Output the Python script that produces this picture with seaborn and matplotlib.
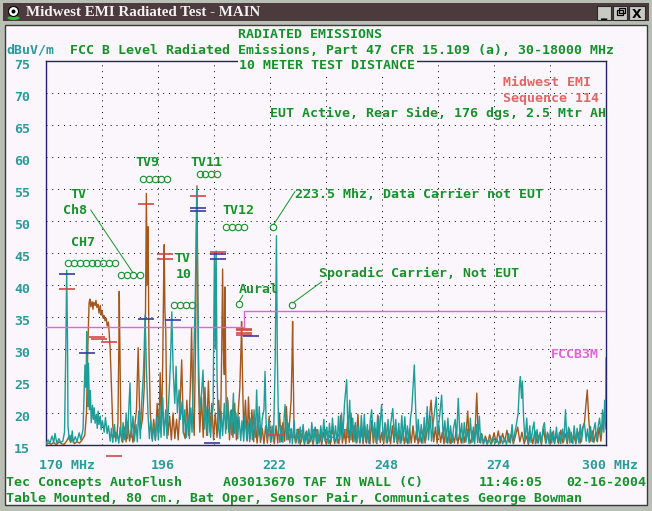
import matplotlib
matplotlib.use("Agg")
import pandas as pd
import matplotlib.pyplot as plt
from matplotlib.patches import Rectangle, Ellipse
from matplotlib.transforms import ScaledTranslation, blended_transform_factory
import seaborn as sns

# ---- values (MHz, dBuV/m) ----
brown_mhz = [
    170.0, 170.6, 171.2, 171.8, 172.4, 173.0, 173.6, 174.2, 174.8, 175.3,
    175.7, 176.1, 176.6, 177.2, 177.8, 178.4, 179.0, 179.4, 179.7, 180.0,
    180.2, 180.4, 180.7, 180.9, 181.1, 181.4, 181.6, 181.8, 182.1, 182.3,
    182.6, 182.8, 183.0, 183.3, 183.5, 183.7, 184.0, 184.2, 184.5, 184.7,
    184.9, 185.2, 185.5, 185.8, 186.1, 186.4, 186.7, 186.9, 187.0, 187.2,
    187.4, 187.8, 188.2, 188.6, 189.0, 189.4, 189.8, 190.2, 190.6, 191.0,
    191.4, 191.7, 192.0, 192.4, 192.8, 193.1, 193.3, 193.5, 193.7, 193.9,
    194.2, 194.6, 195.0, 195.4, 195.8, 196.2, 196.5, 196.8, 197.1, 197.3,
    197.45, 197.6, 197.8, 198.0, 198.3, 198.7, 199.1, 199.5, 199.9, 200.3,
    200.7, 201.1, 201.5, 201.9, 202.3, 202.7, 203.1, 203.5, 203.8, 204.1,
    204.4, 204.7, 204.9, 205.05, 205.2, 205.4, 205.7, 206.1, 206.5, 206.9,
    207.3, 207.7, 208.1, 208.5, 208.9, 209.3, 209.7, 210.1, 210.5, 210.8,
    211.0, 211.2, 211.4, 211.55, 211.7, 211.9, 212.2, 212.6, 213.0, 213.4,
    213.8, 214.2, 214.6, 215.0, 215.3, 215.4, 215.6, 215.9, 216.3, 216.7,
    217.0, 217.4, 217.8, 218.2, 218.6, 219.0, 219.4, 219.8, 220.2, 220.6,
    221.0, 221.4, 221.8, 222.2, 222.6, 223.0, 223.4, 223.8, 224.2, 224.6,
    225.0, 225.4, 225.8, 226.2, 226.6, 226.9, 227.1, 227.25, 227.4, 227.6,
    228.0, 228.5, 229.0, 229.5, 230.0, 230.5, 231.0, 231.5, 232.0, 232.5,
    233.0, 233.5, 234.0, 234.5, 235.0, 235.5, 236.0, 236.5, 237.0, 237.5,
    238.0, 238.4, 238.8, 239.2, 239.6, 240.0, 240.4, 240.8, 241.2, 241.6,
    242.0, 242.4, 242.8, 243.2, 243.6, 244.0, 244.4, 244.8, 245.2, 245.6,
    246.0, 246.4, 246.8, 247.2, 247.6, 248.0, 248.4, 248.8, 249.2, 249.6,
    250.0, 250.4, 250.8, 251.2, 251.6, 252.0, 252.4, 252.8, 253.2, 253.6,
    254.0, 254.4, 254.8, 255.2, 255.6, 256.0, 256.4, 256.8, 257.2, 257.6,
    258.0, 258.4, 258.8, 259.1, 259.4, 259.7, 260.0, 260.4, 260.8, 261.2,
    261.6, 262.0, 262.4, 262.8, 263.2, 263.6, 264.0, 264.4, 264.8, 265.2,
    265.6, 266.0, 266.4, 266.8, 267.2, 267.6, 267.9, 268.2, 268.6, 269.0,
    269.4, 269.7, 270.0, 270.3, 270.7, 271.1, 271.5, 272.0, 272.5, 273.0,
    273.5, 274.0, 274.5, 275.0, 275.5, 276.0, 276.5, 277.0, 277.5, 278.0,
    278.5, 279.0, 279.5, 280.0, 280.5, 281.0, 281.5, 282.0, 282.5, 283.0,
    283.5, 284.0, 284.5, 285.0, 285.5, 286.0, 286.5, 287.0, 287.5, 288.0,
    288.5, 289.0, 289.5, 290.0, 290.5, 291.0, 291.5, 292.0, 292.5, 293.0,
    293.5, 294.0, 294.5, 295.0, 295.3, 295.65, 296.0, 296.4, 296.8, 297.2,
    297.6, 298.0, 298.4, 298.8, 299.2, 299.6, 300.0,
]
brown_dbuv = [
    15.0, 15.3, 15.1, 15.4, 15.0, 15.5, 15.2, 15.1, 15.6, 16.3,
    15.4, 16.0, 15.2, 15.5, 15.3, 15.8, 16.5, 20.0, 30.0, 37.2,
    37.8, 36.6, 37.4, 36.2, 37.3, 36.8, 37.6, 36.5, 37.0, 35.6,
    36.8, 35.3, 36.0, 34.8, 35.2, 34.4, 34.8, 33.6, 34.2, 32.0,
    30.0, 24.0, 18.0, 16.2, 17.0, 16.0, 18.5, 30.0, 39.0, 28.0,
    16.5, 15.4, 17.8, 15.5, 18.6, 15.6, 17.4, 15.4, 18.0, 20.5,
    30.2, 21.0, 17.5, 19.0, 24.0, 36.0, 54.3, 40.0, 49.1, 30.0,
    20.0, 16.0, 19.0, 15.8, 21.5, 17.0, 26.3, 18.0, 28.0, 40.0,
    46.3, 36.0, 33.0, 22.0, 16.5, 19.5, 15.8, 20.0, 16.0, 19.0,
    15.8, 21.0, 28.3, 17.0, 16.0, 22.0, 16.5, 24.0, 33.3, 20.0,
    16.5, 30.0, 45.0, 55.5, 42.0, 25.0, 17.0, 22.5, 16.2, 24.0,
    16.5, 25.0, 17.0, 21.5, 15.8, 20.0, 16.2, 22.0, 17.0, 30.0,
    42.5, 30.0, 26.0, 39.7, 28.0, 17.5, 22.0, 15.8, 20.5, 16.2,
    21.5, 15.8, 20.0, 24.0, 31.0, 34.3, 26.0, 17.0, 22.0, 15.6,
    22.5, 16.0, 20.5, 15.5, 19.0, 15.3, 18.2, 15.4, 17.6, 15.2,
    18.0, 15.3, 19.5, 15.4, 17.5, 15.2, 18.0, 15.3, 20.0, 15.5,
    18.5, 15.6, 21.0, 15.8, 19.0, 22.0, 28.0, 34.3, 26.0, 16.5,
    15.3, 17.5, 15.1, 16.8, 15.1, 17.2, 15.2, 16.5, 15.1, 17.8,
    15.2, 16.6, 15.1, 17.0, 15.2, 16.2, 15.1, 18.0, 15.2, 16.4,
    15.2, 19.6, 15.3, 17.0, 15.2, 18.5, 15.4, 20.0, 15.5, 18.0,
    15.3, 19.8, 15.4, 17.5, 15.2, 18.0, 15.3, 17.2, 15.2, 18.8,
    15.3, 17.6, 15.2, 19.5, 15.4, 17.0, 15.2, 18.3, 15.3, 17.0,
    15.2, 18.0, 15.4, 17.4, 15.2, 16.9, 15.3, 17.6, 15.2, 16.8,
    15.2, 17.5, 15.3, 18.0, 15.4, 17.2, 15.2, 16.8, 15.3, 17.5,
    15.3, 17.0, 18.0, 20.0, 22.0, 18.5, 15.5, 17.8, 15.3, 18.0,
    15.4, 17.0, 15.2, 17.5, 15.3, 17.0, 15.2, 16.6, 15.3, 17.2,
    15.2, 16.8, 15.3, 17.0, 15.4, 17.6, 20.3, 16.0, 15.3, 17.2,
    15.5, 18.5, 23.1, 17.0, 15.4, 16.8, 15.2, 16.4, 15.2, 16.6,
    15.3, 16.9, 15.4, 17.2, 15.3, 16.8, 15.5, 17.3, 15.4, 16.7,
    15.2, 16.5, 17.8, 15.5, 17.0, 15.2, 16.4, 15.1, 16.8, 15.2,
    17.2, 15.3, 16.6, 15.1, 17.5, 15.3, 16.8, 15.2, 17.0, 15.3,
    16.6, 15.2, 17.3, 15.3, 16.8, 15.2, 17.5, 15.4, 16.6, 15.2,
    17.0, 15.3, 17.6, 18.5, 21.0, 23.6, 19.0, 15.6, 17.2, 15.4,
    17.0, 15.5, 17.8, 15.6, 18.2, 20.0, 17.5,
]

teal_mhz = [
    170.0, 170.5, 170.9, 171.4, 171.8, 172.1, 172.5, 173.0, 173.4, 173.9,
    174.3, 174.6, 174.8, 175.0, 175.1, 175.4, 175.6, 175.8, 176.1, 176.3,
    176.8, 177.2, 177.7, 178.1, 178.6, 178.8, 179.05, 179.3, 179.45, 179.6,
    179.75, 179.85, 180.1, 180.3, 180.5, 180.8, 181.0, 181.2, 181.4, 181.7,
    181.9, 182.1, 182.3, 182.6, 182.8, 183.1, 183.5, 183.8, 184.2, 184.5,
    184.9, 185.2, 185.5, 185.9, 186.2, 186.5, 186.9, 187.2, 187.6, 187.9,
    188.3, 188.6, 188.9, 189.5, 189.8, 190.2, 190.5, 190.9, 191.2, 191.5,
    191.9, 192.2, 192.6, 192.8, 193.0, 193.3, 193.7, 194.0, 194.3, 194.7,
    195.0, 195.4, 195.7, 196.1, 196.4, 196.7, 197.1, 197.4, 197.8, 198.1,
    198.5, 198.9, 199.2, 199.5, 199.9, 200.2, 200.5, 200.9, 201.2, 201.6,
    201.9, 202.2, 202.6, 202.9, 203.3, 203.6, 203.9, 204.35, 204.65, 205.0,
    205.2, 205.45, 205.7, 206.1, 206.45, 206.8, 207.1, 207.5, 207.8, 208.2,
    208.5, 208.8, 209.1, 209.3, 209.5, 209.7, 210.0, 210.4, 210.7, 211.0,
    211.4, 211.7, 212.1, 212.4, 212.8, 213.1, 213.5, 213.8, 214.1, 214.5,
    214.8, 215.2, 215.5, 215.9, 216.2, 216.6, 216.9, 217.3, 217.6, 217.9,
    218.3, 218.6, 218.9, 219.2, 219.5, 219.9, 220.2, 220.6, 220.85, 221.1,
    221.4, 221.8, 222.1, 222.5, 222.8, 223.2, 223.5, 223.7, 224.0, 224.3,
    224.6, 225.0, 225.3, 225.5, 225.9, 226.2, 226.6, 226.9, 227.2, 227.6,
    227.9, 228.3, 228.6, 229.0, 229.3, 229.7, 230.0, 230.3, 230.7, 231.0,
    231.4, 231.7, 232.1, 232.4, 232.8, 233.1, 233.4, 233.8, 234.1, 234.5,
    234.8, 235.2, 235.5, 235.8, 236.2, 236.5, 236.9, 237.2, 237.6, 237.9,
    238.2, 238.6, 238.9, 239.3, 239.8, 240.1, 240.5, 240.8, 241.2, 241.5,
    241.8, 242.2, 242.5, 242.9, 243.2, 243.6, 243.9, 244.2, 244.6, 244.9,
    245.3, 245.6, 246.0, 246.3, 246.6, 247.0, 247.3, 247.9, 248.3, 248.7,
    249.0, 249.4, 249.7, 250.0, 250.5, 250.9, 251.2, 251.5, 251.9, 252.2,
    252.6, 252.9, 253.3, 253.6, 253.9, 254.3, 254.6, 254.9, 255.5, 255.8,
    256.1, 256.4, 256.8, 257.1, 257.5, 257.8, 258.1, 258.5, 258.8, 259.2,
    259.5, 259.9, 260.2, 260.6, 260.9, 261.3, 261.85, 262.2, 262.6, 262.9,
    263.3, 263.6, 263.9, 264.3, 264.6, 265.0, 265.3, 265.7, 266.1, 266.5,
    266.8, 267.1, 267.5, 267.8, 268.2, 268.5, 268.9, 269.2, 269.5, 269.9,
    270.2, 270.6, 270.9, 271.2, 271.6, 271.9, 272.4, 272.8, 273.3, 273.7,
    274.2, 274.7, 275.1, 275.6, 276.0, 276.5, 276.9, 277.4, 277.8, 278.2,
    278.5, 278.9, 279.2, 279.6, 279.9, 280.1, 280.4, 280.6, 280.85, 281.2,
    281.6, 281.9, 282.3, 282.6, 283.0, 283.3, 283.6, 284.0, 284.3, 284.7,
    285.0, 285.4, 285.7, 286.1, 286.4, 286.8, 287.1, 287.4, 287.8, 288.1,
    288.5, 288.8, 289.2, 289.5, 289.9, 290.2, 290.6, 290.9, 291.3, 291.6,
    291.9, 292.3, 292.6, 293.0, 293.3, 293.7, 294.0, 294.3, 294.7, 295.0,
    295.4, 295.7, 296.1, 296.4, 296.8, 297.1, 297.5, 297.8, 298.2, 298.5,
    298.9, 299.2, 299.5, 299.7, 299.9, 300.0,
]
teal_dbuv = [
    15.2, 15.8, 15.3, 16.4, 15.4, 16.8, 15.3, 16.0, 15.4, 15.6,
    17.0, 30.0, 42.3, 31.0, 18.0, 15.8, 16.5, 15.5, 17.2, 15.4,
    16.3, 15.5, 16.9, 15.8, 17.5, 22.0, 27.5, 24.0, 32.7, 26.0,
    21.0, 27.8, 20.5, 23.5, 18.5, 21.2, 19.0, 20.8, 18.4, 19.8,
    17.6, 20.3, 18.2, 19.5, 17.4, 18.8, 17.0, 19.3, 16.8, 18.0,
    15.6, 17.6, 15.4, 18.2, 15.5, 17.0, 15.3, 17.8, 15.6, 18.5,
    15.8, 20.0, 16.0, 24.7, 16.2, 19.5, 15.6, 18.2, 15.5, 20.3,
    16.0, 21.5, 26.0, 30.0, 35.3, 27.0, 19.5, 16.0, 18.8, 15.6,
    18.0, 15.7, 19.4, 15.8, 21.0, 16.2, 22.4, 16.5, 20.5, 16.0,
    22.2, 28.0, 35.8, 27.0, 21.5, 27.3, 20.0, 23.6, 19.0, 21.8,
    16.8, 20.5, 16.2, 19.8, 16.0, 20.8, 17.0, 29.5, 38.0, 55.1,
    40.0, 27.0, 20.5, 23.0, 26.7, 17.5, 21.0, 16.5, 20.6, 16.2,
    19.5, 21.0, 45.0, 30.0, 45.3, 26.0, 18.0, 16.0, 20.2, 16.5,
    21.5, 16.8, 22.4, 17.0, 20.3, 16.6, 23.1, 16.8, 20.0, 16.0,
    19.4, 15.7, 18.8, 15.6, 19.6, 15.8, 18.5, 15.5, 19.2, 15.8,
    20.5, 16.2, 23.6, 16.4, 21.0, 15.9, 19.2, 20.5, 26.5, 18.5,
    16.0, 18.8, 15.6, 18.0, 15.5, 28.0, 47.7, 29.0, 17.0, 15.4,
    18.0, 15.4, 19.5, 21.3, 15.8, 18.4, 15.3, 17.6, 15.2, 18.8,
    15.4, 17.3, 15.3, 17.8, 15.5, 18.2, 15.3, 17.0, 15.2, 17.5,
    15.5, 18.5, 15.4, 17.6, 15.2, 17.2, 15.3, 18.0, 15.5, 19.0,
    15.6, 17.8, 15.2, 18.4, 15.5, 19.2, 15.7, 18.0, 15.3, 19.5,
    15.8, 20.0, 16.2, 21.5, 25.2, 16.5, 22.0, 15.8, 19.2, 15.5,
    18.5, 15.4, 18.0, 15.3, 19.6, 15.6, 19.8, 15.5, 18.2, 15.3,
    19.0, 20.5, 15.8, 18.5, 15.4, 19.7, 15.8, 21.3, 15.6, 18.5,
    15.4, 19.0, 15.6, 18.2, 20.7, 15.7, 19.0, 15.4, 18.4, 15.3,
    19.6, 15.7, 19.4, 15.4, 18.0, 15.3, 19.2, 20.5, 27.5, 21.0,
    15.8, 19.0, 15.5, 18.2, 15.3, 19.3, 15.6, 21.0, 15.8, 19.5,
    15.6, 18.6, 20.2, 22.5, 16.5, 19.0, 22.8, 16.0, 18.8, 15.4,
    19.2, 15.3, 18.0, 15.4, 17.6, 19.0, 15.8, 22.3, 15.9, 18.4,
    15.3, 18.5, 15.5, 17.5, 15.2, 19.2, 15.4, 17.8, 15.2, 18.2,
    15.4, 19.5, 15.3, 16.6, 15.2, 16.0, 15.1, 15.9, 15.1, 16.2,
    15.2, 15.9, 15.1, 16.4, 15.2, 16.0, 15.1, 16.8, 15.3, 18.2,
    15.4, 17.2, 18.2, 20.0, 24.2, 25.7, 22.3, 25.0, 19.5, 15.6,
    19.2, 15.3, 18.0, 15.4, 17.6, 18.6, 15.2, 17.4, 15.3, 17.0,
    15.2, 17.8, 18.5, 15.3, 17.0, 15.2, 17.5, 15.3, 17.2, 15.2,
    17.8, 15.4, 17.0, 15.2, 17.5, 15.5, 20.5, 15.6, 17.8, 15.3,
    17.0, 15.2, 18.0, 15.4, 17.6, 15.3, 18.2, 15.5, 17.8, 18.4,
    15.6, 17.5, 15.4, 17.9, 15.5, 17.2, 18.5, 15.7, 18.0, 19.2,
    16.5, 20.5, 17.0, 22.0, 19.0, 28.6,
]

# FCC class B limit at 10 m
limit_mhz = [170, 216, 216, 300]
limit_dbuv = [33.5, 33.5, 36.0, 36.0]

# quasi-peak / marker bars
red_mark_mhz = [174.8, 181.8, 182.3, 184.6, 185.8, 193.1, 197.7, 197.7,
                205.2, 210.0, 216.0, 216.0, 216.0, 216.0, 223.3]
red_mark_dbuv = [39.4, 31.8, 31.5, 31.1, 13.3, 52.6, 44.8, 44.0,
                 53.9, 45.2, 33.2, 32.9, 32.5, 32.2, 16.6]
blue_mark_mhz = [174.9, 179.6, 193.2, 199.4, 205.2, 205.2, 210.0, 210.0, 217.7, 208.6]
blue_mark_dbuv = [41.7, 29.4, 34.7, 34.5, 52.0, 51.6, 44.8, 44.1, 32.0, 15.3]

# little circle rows that tag the channels
ch7_circles = [175.1, 176.5, 177.8, 179.2, 180.6, 181.9, 183.3, 184.7, 186.0]
ch8_circles = [187.5, 188.9, 190.3, 191.8]
tv9_circles = [192.5, 193.9, 195.3, 196.7, 198.1]
tv10_circles = [199.65, 201.05, 202.45, 203.85]
tv11_circles = [205.65, 207.0, 208.4, 209.7]
tv12_circles = [211.7, 213.1, 214.5, 215.9]
single_circle_mhz = [214.9, 222.6, 227.0]
single_circle_dbuv = [37.0, 49.0, 36.9]

x_ticks = [170, 196, 222, 248, 274, 300]
x_labels = ["170 MHz", "196", "222", "248", "274", "300 MHz"]
y_ticks = [15, 20, 25, 30, 35, 40, 45, 50, 55, 60, 65, 70, 75]

GREEN = "#17902c"
TEAL = "#2a9a9a"
BROWN = "#a3581c"
TRACE_TEAL = "#1f9d98"
RED = "#e06666"
MAGENTA = "#e064d4"
NAVY = "#22226e"
BG = "#faf6fc"

W, H = 652, 511
plt.rcParams["font.family"] = "DejaVu Sans Mono"
plt.rcParams["font.weight"] = "bold"
FS = 9.5

fig = plt.figure(figsize=(W / 100, H / 100), dpi=100)
fig.patch.set_facecolor("#b9bfb5")


def px_rect(x0, y0, x1, y1, fc, ec="none", lw=0, z=-5):
    fig.add_artist(Rectangle((x0 / W, 1 - y1 / H), (x1 - x0) / W, (y1 - y0) / H,
                             transform=fig.transFigure, fc=fc, ec=ec, lw=lw, zorder=z))


def ftext(x, y, s, color=GREEN, size=FS, **kw):
    # x = left edge, y = vertical centre of capitals, both in pixels
    return fig.text(x / W, 1 - (y + 4.8) / H, s, color=color, fontsize=size,
                    ha="left", va="baseline", **kw)


# window chrome
px_rect(3, 3, 649, 21, "#4b3b3d")
px_rect(5, 25, 647, 505, BG, ec="#3a3a3a", lw=1.0)
fig.add_artist(Ellipse((13.5 / W, 1 - 18 / H), 12 / W, 4 / H, transform=fig.transFigure,
                       fc="#3cb83c", zorder=-4))
fig.add_artist(Ellipse((13.5 / W, 1 - 11.5 / H), 10 / W, 10 / H, transform=fig.transFigure,
                       fc="white", ec="black", lw=0.8, zorder=-4))
fig.add_artist(Ellipse((13.5 / W, 1 - 11.5 / H), 4 / W, 4 / H, transform=fig.transFigure,
                       fc="black", zorder=-4))
fig.text(26 / W, 1 - 16.5 / H, "Midwest EMI Radiated Test - MAIN", color="#f6f2f2",
         fontsize=10.8, fontweight="bold", family="Liberation Serif", va="baseline")
for bx0, bx1 in [(597, 611), (613, 627), (629, 645)]:
    px_rect(bx0, 6, bx1, 20, "#c6cac2", ec="#2a2a2a", lw=0.8, z=-4)
fig.text(604 / W, 1 - 17 / H, "_", fontsize=9, fontweight="bold", ha="center",
         va="baseline", family="DejaVu Sans")
px_rect(617, 10, 623, 15, "none", ec="black", lw=0.9, z=-3)
px_rect(619, 8.5, 625, 13, "none", ec="black", lw=0.9, z=-3)
fig.text(637 / W, 1 - 17.5 / H, "X", fontsize=9, fontweight="bold", ha="center",
         va="baseline", family="DejaVu Sans")

# plotting area
ax = fig.add_axes([46 / W, (H - 445) / H, 560 / W, 384 / H])
ax.set_facecolor(BG)

df = pd.concat([
    pd.DataFrame({"mhz": brown_mhz, "dbuv": brown_dbuv, "trace": "brown"}),
    pd.DataFrame({"mhz": teal_mhz, "dbuv": teal_dbuv, "trace": "teal"}),
], ignore_index=True)
sns.lineplot(data=df, x="mhz", y="dbuv", hue="trace",
             palette={"brown": BROWN, "teal": TRACE_TEAL},
             estimator=None, sort=False, linewidth=1.0, legend=False, ax=ax, zorder=3)
sns.lineplot(x=limit_mhz, y=limit_dbuv, color=MAGENTA, estimator=None, sort=False,
             linewidth=1.0, ax=ax, zorder=4)

ax.plot(red_mark_mhz, red_mark_dbuv, ls="none", marker="_", ms=11.5, mew=1.2,
        color="#d24848", clip_on=False, zorder=5)
ax.plot(blue_mark_mhz, blue_mark_dbuv, ls="none", marker="_", ms=11.5, mew=1.2,
        color="#3a3aa6", clip_on=False, zorder=5)

circle_rows = [(ch7_circles, 43.4), (ch8_circles, 41.6), (tv9_circles, 56.5),
               (tv10_circles, 36.9), (tv11_circles, 57.4), (tv12_circles, 49.0)]
for mhz, lvl in circle_rows:
    ax.plot(mhz, [lvl] * len(mhz), ls="none", marker="o", ms=4.6, mfc="none",
            mec=GREEN, mew=0.8, zorder=6)
ax.plot(single_circle_mhz, single_circle_dbuv, ls="none", marker="o", ms=4.6,
        mfc="none", mec=GREEN, mew=0.8, zorder=6)

# leader lines
for (f0, l0), (f1, l1) in [((180.4, 51.7), (190.2, 41.9)), ((214.9, 37.5), (215.7, 38.4)),
                           ((222.9, 49.5), (227.8, 54.6)), ((227.3, 37.2), (234.0, 40.5))]:
    ax.plot([f0, f1], [l0, l1], color=GREEN, lw=0.7, zorder=6)

ax.set_xlim(170, 300)
ax.set_ylim(15, 75)
ax.set_xticks([170 + 13 * i for i in range(11)])
ax.set_yticks(y_ticks)
ax.grid(True, color="black", linestyle=(0, (1, 5)), linewidth=0.7)
ax.tick_params(length=0, labelbottom=False, labelleft=False)
ax.set_xlabel("")
ax.set_ylabel("")
for sp in ax.spines.values():
    sp.set_color(NAVY)
    sp.set_linewidth(1.0)

# axis labels, drawn as text so they can sit like the analyser's
xt = blended_transform_factory(ax.transData, ax.transAxes)
x_shift = [-6.7, -7.3, -8.0, -7.7, -7.3, -23.7]
for val, lab, dx in zip(x_ticks, x_labels, x_shift):
    ax.text(val, 0, lab, color=TEAL, fontsize=FS, ha="left", va="baseline",
            transform=xt + ScaledTranslation(dx / 100, -23.8 / 100, fig.dpi_scale_trans))
yt = blended_transform_factory(ax.transAxes, ax.transData)
for val in y_ticks:
    ax.text(0, val, str(val), color=TEAL, fontsize=FS, ha="right", va="baseline",
            transform=yt + ScaledTranslation(-16 / 100, -8.3 / 100, fig.dpi_scale_trans))

# header texts
ftext(238.3, 33, "RADIATED EMISSIONS")
ftext(6.7, 49, "dBuV/m", color=TEAL)
ftext(70, 49, "FCC B Level Radiated Emissions, Part 47 CFR 15.109 (a), 30-18000 MHz")
ftext(239.3, 64, "10 METER TEST DISTANCE",
      bbox=dict(fc=BG, ec="none", pad=1.2)).set_zorder(10)
ftext(502.7, 80.7, "Midwest EMI", color=RED)
ftext(502.7, 97.3, "Sequence 114", color=RED)
ftext(270, 112.7, "EUT Active, Rear Side, 176 dgs, 2.5 Mtr AH")

# annotations in the plot
ftext(135, 160.7, "TV9")
ftext(190.7, 160.7, "TV11")
ftext(70.7, 192.7, "TV")
ftext(62.7, 209.3, "Ch8")
ftext(70.7, 240.7, "CH7")
ftext(222.7, 209, "TV12")
ftext(174, 256.7, "TV")
ftext(175.7, 272.7, "10")
ftext(238.3, 288.3, "Aural")
ftext(295, 192.7, "223.5 Mhz, Data Carrier not EUT")
ftext(319, 272.7, "Sporadic Carrier, Not EUT")
ftext(550.7, 352.7, "FCCB3M", color=MAGENTA)
ax.text(287.3 / W, 1 - (432.7 + 4.8) / H, "13 MHz/Div", color=TEAL, fontsize=FS,
        transform=fig.transFigure, va="baseline", zorder=2)

# footer
ftext(6, 480.7, "Tec Concepts AutoFlush")
ftext(222.7, 480.7, "A03013670 TAF IN WALL (C)")
ftext(479, 480.7, "11:46:05")
ftext(566.7, 480.7, "02-16-2004")
ftext(6, 496.7, "Table Mounted, 80 cm., Bat Oper, Sensor Pair, Communicates George Bowman")

fig.savefig("out.png", dpi=100, facecolor=fig.get_facecolor())
